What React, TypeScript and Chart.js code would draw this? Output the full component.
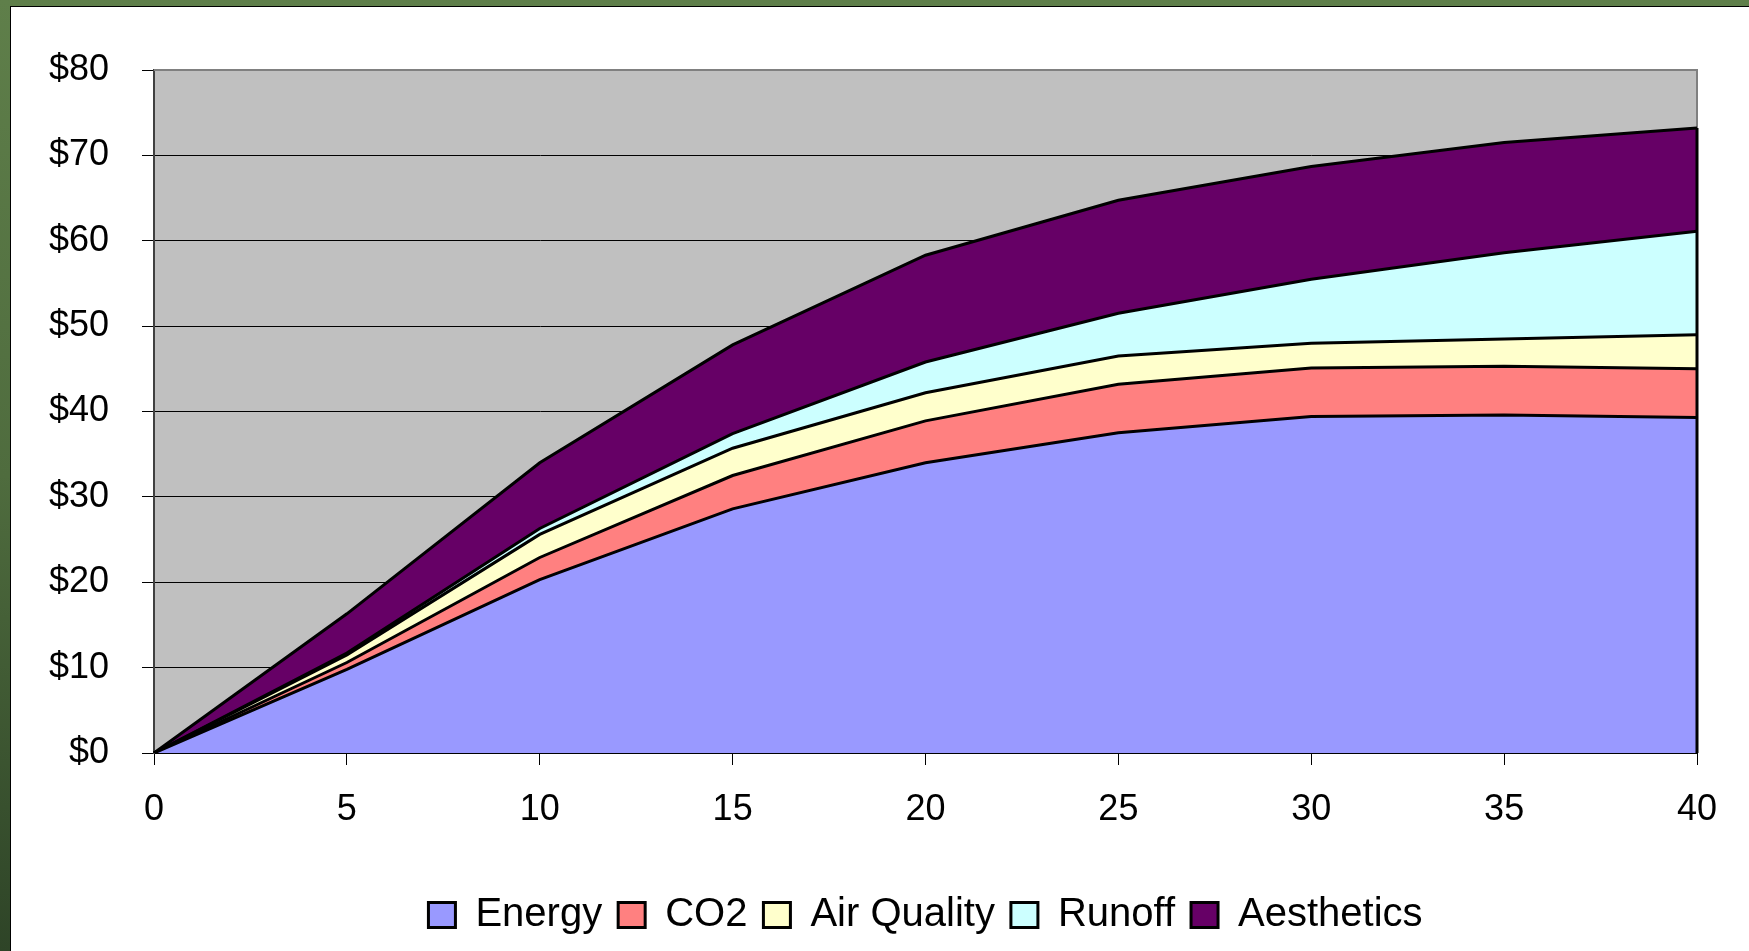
import React, { useEffect, useRef } from "react";
import { Chart, registerables } from "chart.js";

Chart.register(...registerables);

// ---- data ----
const years = ["0", "5", "10", "15", "20", "25", "30", "35", "40"];
const energy = [0, 9.8, 20.3, 28.6, 34.0, 37.5, 39.4, 39.6, 39.3];
const co2 = [0, 0.8, 2.6, 3.9, 4.9, 5.7, 5.7, 5.7, 5.7];
const airQuality = [0, 0.9, 2.7, 3.2, 3.3, 3.3, 2.9, 3.2, 4.0];
const runoff = [0, 0.2, 0.7, 1.7, 3.6, 5.0, 7.5, 10.1, 12.1];
const aesthetics = [0, 4.6, 7.7, 10.4, 12.5, 13.25, 13.2, 12.9, 12.1];

const seriesNames = ["Energy", "CO2", "Air Quality", "Runoff", "Aesthetics"];
const seriesColors = ["#9999FF", "#FF8080", "#FFFFCC", "#CCFFFF", "#660066"];
const yMin = 0;
const yMax = 80;
const yStep = 10;

const FONT = '"Liberation Sans", Arial, Helvetica, sans-serif';

export default function App() {
  const ref = useRef<HTMLCanvasElement | null>(null);

  useEffect(() => {
    const prevMargin = document.body.style.margin;
    document.body.style.margin = "0";
    const canvas = ref.current;
    if (!canvas) return;

    const seriesData = [energy, co2, airQuality, runoff, aesthetics];

    const plotDecor = {
      id: "plotDecor",
      beforeDraw(chart: any) {
        const { ctx, chartArea } = chart;
        ctx.save();
        ctx.fillStyle = "#C0C0C0";
        ctx.fillRect(chartArea.left, chartArea.top, chartArea.right - chartArea.left, chartArea.bottom - chartArea.top);
        ctx.restore();
      },
      beforeDatasetsDraw(chart: any) {
        const { ctx, chartArea } = chart;
        ctx.save();
        ctx.strokeStyle = "#808080";
        ctx.lineWidth = 2;
        ctx.beginPath();
        ctx.moveTo(chartArea.left, chartArea.top);
        ctx.lineTo(chartArea.right, chartArea.top);
        ctx.lineTo(chartArea.right, chartArea.bottom);
        ctx.stroke();
        ctx.restore();
      },
      afterDatasetsDraw(chart: any) {
        const { ctx } = chart;
        const xs = chart.scales.x;
        const ys = chart.scales.y;
        const last = years.length - 1;
        let total = 0;
        seriesData.forEach((s) => (total += s[last]));
        const x = xs.getPixelForValue(last);
        ctx.save();
        ctx.strokeStyle = "#000";
        ctx.lineWidth = 3;
        ctx.beginPath();
        ctx.moveTo(x, ys.getPixelForValue(total));
        ctx.lineTo(x, ys.getPixelForValue(0));
        ctx.stroke();
        ctx.restore();
      },
    };

    const chart = new Chart(canvas, {
      type: "line",
      data: {
        labels: years,
        datasets: seriesNames.map((name, i) => ({
          label: name,
          data: seriesData[i],
          backgroundColor: seriesColors[i],
          borderColor: "#000000",
          borderWidth: 3,
          pointRadius: 0,
          pointHoverRadius: 0,
          tension: 0,
          fill: i === 0 ? "origin" : "-1",
        })),
      },
      options: {
        responsive: false,
        animation: false,
        events: [],
        layout: { padding: { left: 0, right: 52, top: 63, bottom: 6 } },
        scales: {
          x: {
            type: "category",
            offset: false,
            afterFit(scale: any) {
              scale.height = 126;
            },
            grid: {
              drawOnChartArea: false,
              drawTicks: true,
              tickLength: 12,
              color: "#000000",
              lineWidth: 1,
            },
            border: { display: true, color: "#000000", width: 2 },
            ticks: {
              color: "#000000",
              font: { family: FONT, size: 36 },
              padding: 23,
              maxRotation: 0,
              autoSkip: false,
            },
          },
          y: {
            stacked: true,
            min: yMin,
            max: yMax,
            afterFit(scale: any) {
              scale.width = 143;
            },
            grid: {
              color: "#000000",
              lineWidth: 1,
              drawTicks: true,
              tickLength: 12,
            },
            border: { display: true, color: "#404040", width: 2 },
            ticks: {
              stepSize: yStep,
              color: "#000000",
              font: { family: FONT, size: 36 },
              padding: 33,
              callback: (v: any) => "$" + v,
            },
          },
        },
        plugins: {
          legend: {
            position: "bottom",
            fullSize: false,
            labels: {
              color: "#000000",
              font: { family: FONT, size: 40 },
              boxWidth: 27,
              boxHeight: 25,
              padding: 16,
            },
          },
          tooltip: { enabled: false },
          title: { display: false },
        },
      },
      plugins: [plotDecor],
    } as any);

    return () => {
      chart.destroy();
      document.body.style.margin = prevMargin;
    };
  }, []);

  return (
    <div
      style={{
        position: "fixed",
        left: 0,
        top: 0,
        width: 1749,
        height: 951,
        overflow: "hidden",
        background: "linear-gradient(to bottom, #5f7f4a 0%, #4f6c3e 50%, #2e4427 100%)",
      }}
    >
      <div
        style={{
          position: "absolute",
          left: 10,
          top: 6,
          right: 0,
          bottom: 0,
          background: "#ffffff",
          borderLeft: "1px solid #000",
          borderTop: "1px solid #000",
        }}
      >
        <canvas ref={ref} width={1738} height={944} style={{ display: "block", width: 1738, height: 944 }} />
      </div>
    </div>
  );
}
